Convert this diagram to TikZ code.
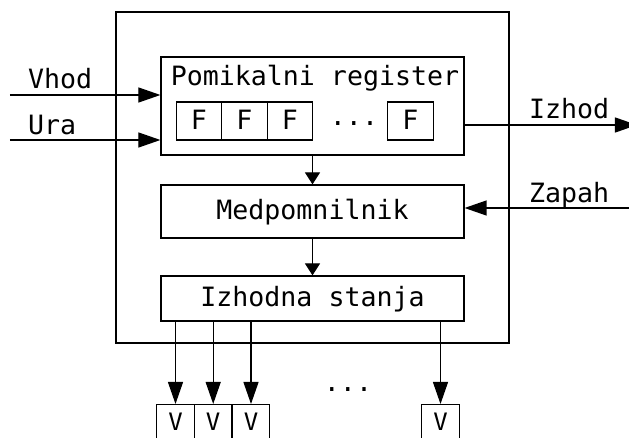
\documentclass[tikz,border=0pt]{standalone}
\usepackage{fontspec}
\setmonofont{DejaVu Sans Mono}
\usetikzlibrary{arrows.meta}

\tikzset{
  blok/.style={draw, line width=0.6pt, inner sep=0pt, text height=8.5pt, text depth=0pt},
  celica/.style={blok, minimum width=22.75pt, minimum height=19pt},
  vcelica/.style={draw, line width=0.6pt, inner sep=0pt, minimum width=18.85pt,
    text height=13pt, text depth=20pt, anchor=north, font=\ttfamily\fontsize{12}{14}\selectfont},
  vhodpuscica/.style={-{Triangle[length=11pt,width=7.5pt]}, line width=0.6pt},
  notrpuscica/.style={-{Triangle[length=6pt,width=7.5pt]}, line width=0.6pt},
}

\begin{document}
\begin{tikzpicture}[font=\ttfamily\fontsize{13.3}{16}\selectfont]

\begin{scope}[x=0.5pt, y=-0.5pt]

\useasboundingbox (0,0) rectangle (629,438);
\clip (0,0) rectangle (629,438);

% okvir vezja
\node[draw, line width=0.7pt, inner sep=0pt, minimum width=196.5pt, minimum height=165.5pt] (okvir) at (312.5,177.5) {};

% pomikalni register
\node[blok, minimum width=151.5pt, minimum height=49pt] (reg) at (312.5,106) {};
\node[anchor=base] (regime) at (315,86) {Pomikalni register};

\foreach \x\ime in {199/f1, 244.5/f2, 290/f3, 410.5/fn}
\node[celica] (\ime) at (\x,121) {F};
\node[anchor=base] (ftocke) at (354,126) {...};

\node[blok, minimum width=151.5pt, minimum height=26.5pt] (med) at (312.5,211.5) {Medpomnilnik};
\node[blok, minimum width=151.5pt, minimum height=22.5pt] (stanja) at (312.5,298.5) {Izhodna stanja};

% izhodi
\foreach \x\ime in {175.5/v1, 213.2/v2, 251/v3, 440.5/vn}
\node[vcelica] (\ime) at (\x,404) {V};
\node[anchor=base] (vtocke) at (348,392) {...};

% vhodi in izhodi
\coordinate (vhod) at (10,95);
\coordinate (ura) at (10,140);
\coordinate (izhod) at (637,125);
\coordinate (zapah) at (640,208);

\node[anchor=base west] (vhodime) at (21,89) {Vhod};
\node[anchor=base west] (uraime) at (21,135) {Ura};
\node[anchor=base west] (izhodime) at (522,119) {Izhod};
\node[anchor=base west] (zapahime) at (522,203) {Zapah};

\draw[vhodpuscica] (vhod) -- (vhod -| reg.west);
\draw[vhodpuscica] (ura) -- (ura -| reg.west);
\draw[vhodpuscica] (reg.east |- izhod) -- (izhod);
\draw[vhodpuscica] (zapah) -- (zapah -| med.east);

\draw[notrpuscica] (reg.south) -- (med.north);
\draw[notrpuscica] (med.south) -- (stanja.north);

\foreach \v in {v1,v2,v3,vn}
\draw[vhodpuscica] (stanja.south -| \v.north) -- (\v.north);

\end{scope}

\end{tikzpicture}
\end{document}
